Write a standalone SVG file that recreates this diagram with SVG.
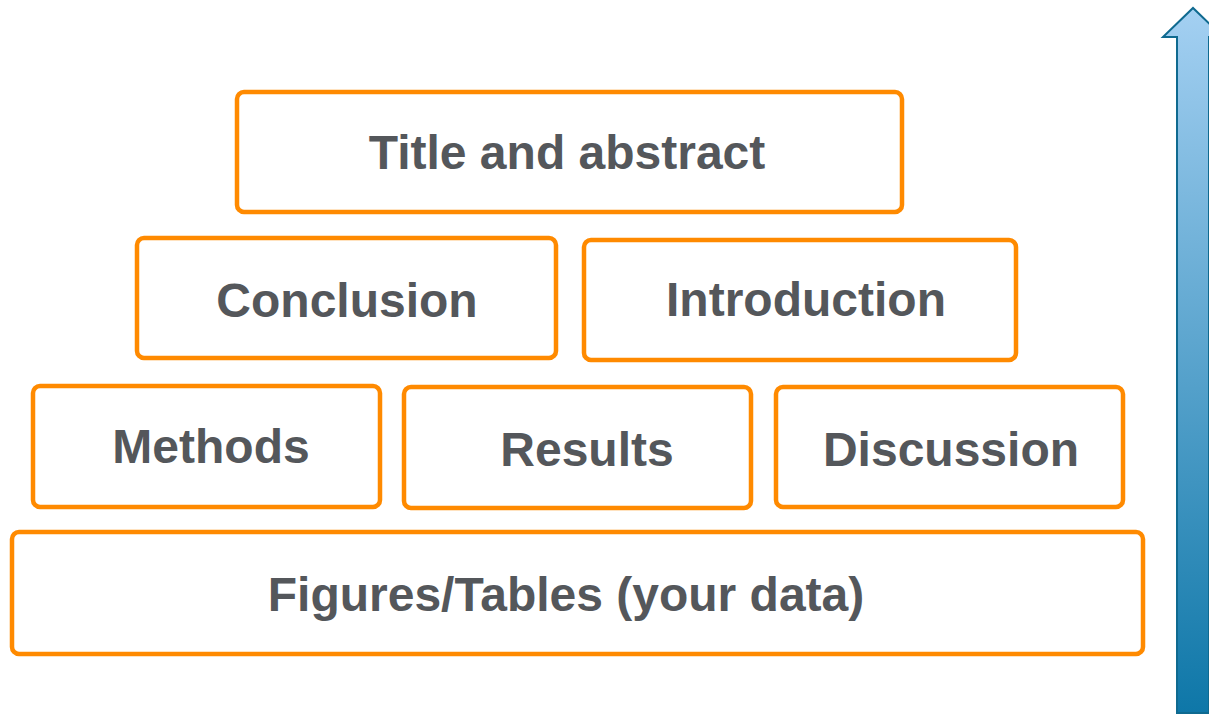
<svg xmlns="http://www.w3.org/2000/svg" width="1209" height="715" viewBox="0 0 1209 715">
<defs>
<style>
.box{fill:#fff;stroke:#FF8A00;stroke-width:4.5;}
.lbl{font-family:"Liberation Sans",Arial,sans-serif;font-weight:bold;font-size:48px;fill:#54575B;text-anchor:middle;}
</style>
<linearGradient id="ag" x1="0" y1="0" x2="0" y2="1">
<stop offset="0" stop-color="#A4D0F2"/>
<stop offset="1" stop-color="#0E77A8"/>
</linearGradient>
</defs>
<rect width="1209" height="715" fill="#fff"/>
<g id="arrow">
<path d="M1177,713 L1177,37 L1163,37 L1193,8 L1223,37 L1209,37 L1209,713 Z" fill="url(#ag)" stroke="#0F6A90" stroke-width="2"/>
</g>
<g id="title"><rect class="box" x="237" y="92" width="665" height="120" rx="7"/><text class="lbl" x="567" y="169">Title and abstract</text></g>
<g id="conclusion"><rect class="box" x="137" y="238" width="419" height="120" rx="7"/><text class="lbl" x="347" y="317">Conclusion</text></g>
<g id="introduction"><rect class="box" x="584" y="240" width="432" height="120" rx="7"/><text class="lbl" x="806" y="316">Introduction</text></g>
<g id="methods"><rect class="box" x="33" y="386" width="347" height="121" rx="7"/><text class="lbl" x="211" y="463">Methods</text></g>
<g id="results"><rect class="box" x="404" y="387" width="347" height="121" rx="7"/><text class="lbl" x="587" y="466">Results</text></g>
<g id="discussion"><rect class="box" x="776" y="387" width="347" height="120" rx="7"/><text class="lbl" x="951" y="466">Discussion</text></g>
<g id="figures"><rect class="box" x="12" y="532" width="1131" height="122" rx="7"/><text class="lbl" x="566" y="611">Figures/Tables (your data)</text></g>
<g id="connectors"></g>
</svg>
